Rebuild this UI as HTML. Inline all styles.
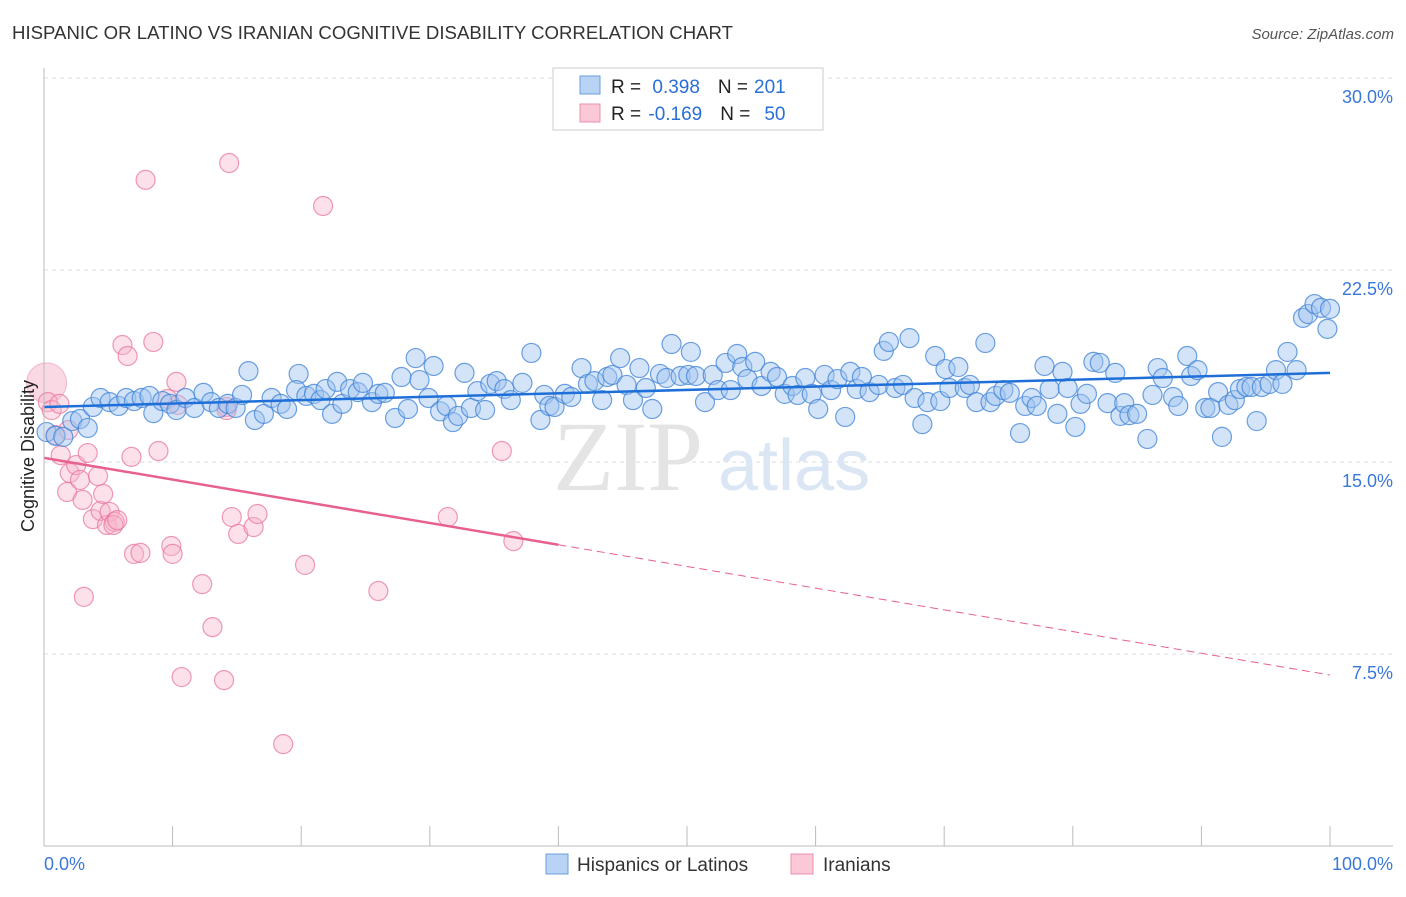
<!DOCTYPE html>
<html><head><meta charset="utf-8"><style>
body{margin:0;background:#fff;font-family:"Liberation Sans",sans-serif;}
svg text{font-family:"Liberation Sans",sans-serif;}
</style></head><body>
<svg id="chart" width="1406" height="892" xmlns="http://www.w3.org/2000/svg">
<text x="12" y="39" font-size="18.6" fill="#333" textLength="721">HISPANIC OR LATINO VS IRANIAN COGNITIVE DISABILITY CORRELATION CHART</text>
<text x="1394" y="39" font-size="15" fill="#555" text-anchor="end" font-style="italic">Source: ZipAtlas.com</text>
<g id="grid"></g>
<text x="553" y="490" font-size="100" fill="#e4e4e4" font-family="Liberation Serif" style="font-family:'Liberation Serif',serif">ZIP</text>
<text x="718" y="490" font-size="72" fill="#dbe6f4">atlas</text>
<g id="marks"></g>
<line x1="44" y1="68" x2="44" y2="846" stroke="#bbb"/>
<line x1="44" y1="846" x2="1393" y2="846" stroke="#bbb"/>
<g id="axes"></g>
<text transform="translate(34,456) rotate(-90)" font-size="18" fill="#222" text-anchor="middle">Cognitive Disability</text>
<g>
<rect x="553" y="68" width="270" height="62" fill="#fff" stroke="#ccc"/>
<rect x="580" y="76" width="20" height="18" fill="#b8d3f3" stroke="#6a9ee0"/>
<rect x="580" y="104" width="20" height="18" fill="#fbc8d8" stroke="#ea90ab"/>
<text x="611" y="93" font-size="19" fill="#222">R = <tspan fill="#2a6fd6" dx="6">0.398</tspan><tspan dx="18" fill="#222">N =</tspan><tspan fill="#2a6fd6" dx="6">201</tspan></text>
<text x="611" y="120" font-size="19" fill="#222">R = <tspan fill="#2a6fd6" dx="2">-0.169</tspan><tspan dx="18" fill="#222">N =</tspan><tspan fill="#2a6fd6" dx="14">50</tspan></text>
</g>
<g>
<rect x="546" y="854" width="22" height="20" fill="#b8d3f3" stroke="#6a9ee0"/>
<text x="577" y="871" font-size="19" fill="#333">Hispanics or Latinos</text>
<rect x="791" y="854" width="22" height="20" fill="#fbc8d8" stroke="#ea90ab"/>
<text x="823" y="871" font-size="19" fill="#333">Iranians</text>
</g>
</svg>
<script>
const yTicks=[7.5,15,22.5,30];
const yTickLabels=["7.5%","15.0%","22.5%","30.0%"];
const xTickLabels=["0.0%","100.0%"];
const blueX=[0.2,0.9,1.5,2.2,2.8,3.4,3.8,4.4,5.1,5.8,6.4,7.0,7.6,8.2,8.5,9.2,9.8,10.3,11.0,11.7,12.4,13.0,13.6,14.3,14.9,15.4,15.9,16.4,17.1,17.7,18.4,18.9,19.8,19.6,20.4,21.0,21.5,21.9,22.4,22.8,23.2,23.8,24.4,24.8,25.5,26.0,26.5,27.3,27.8,28.3,28.9,29.2,29.9,30.3,30.8,31.3,31.8,32.2,32.7,33.2,33.7,34.3,34.7,35.2,35.8,36.3,37.2,37.9,38.6,38.9,39.3,39.7,40.5,41.0,41.8,42.3,42.8,43.4,43.8,44.2,44.8,45.3,45.8,46.3,46.8,47.3,47.9,48.4,48.8,49.5,50.1,50.3,50.7,51.4,52.0,52.4,53.0,53.4,53.9,54.3,54.7,55.3,55.8,56.5,57.0,57.6,58.2,58.6,59.2,59.7,60.2,60.7,61.2,61.7,62.3,62.7,63.2,63.6,64.2,64.9,65.3,65.7,66.2,66.8,67.3,67.7,68.3,68.7,69.3,69.7,70.1,70.4,71.1,71.6,72.0,72.5,73.2,73.6,74.0,74.6,75.1,75.9,76.3,76.8,77.2,77.8,78.2,78.8,79.2,79.6,80.2,80.6,81.1,81.6,82.1,82.7,83.3,83.7,84.0,84.4,85.0,85.8,86.2,86.6,87.0,87.8,88.2,88.9,89.2,89.7,90.3,90.7,91.3,91.6,92.1,92.6,93.0,93.5,93.9,94.3,94.7,95.3,95.8,96.3,96.7,97.4,97.9,98.3,98.8,99.3,99.8,100];
const blueY=[16.17,16.02,15.98,16.60,16.68,16.33,17.15,17.50,17.34,17.19,17.50,17.38,17.50,17.58,16.91,17.38,17.27,17.03,17.50,17.11,17.70,17.34,17.11,17.27,17.11,17.62,18.55,16.64,16.88,17.50,17.27,17.07,18.44,17.81,17.58,17.66,17.42,17.85,16.88,18.13,17.27,17.85,17.73,18.09,17.34,17.66,17.70,16.72,18.32,17.07,19.06,18.20,17.50,18.75,16.98,17.19,16.56,16.80,18.48,17.11,17.77,17.03,18.05,18.16,17.85,17.42,18.09,19.26,16.64,17.62,17.19,17.15,17.66,17.54,18.67,18.05,18.16,17.42,18.32,18.40,19.06,18.01,17.42,18.67,17.89,17.07,18.44,18.28,19.61,18.36,18.40,19.30,18.36,17.34,18.40,17.81,18.87,17.81,19.22,18.71,18.24,18.91,17.97,18.52,18.32,17.66,17.97,17.62,18.28,17.66,17.07,18.40,17.81,18.24,16.76,18.52,17.85,18.32,17.73,18.01,19.34,19.69,17.89,18.01,19.84,17.50,16.48,17.34,19.14,17.38,18.63,17.89,18.71,17.89,18.01,17.34,19.65,17.34,17.58,17.81,17.70,16.13,17.19,17.50,17.19,18.75,17.85,16.88,18.52,17.89,16.37,17.27,17.66,18.91,18.87,17.30,18.48,16.80,17.30,16.83,16.88,15.90,17.62,18.67,18.28,17.54,17.19,19.14,18.36,18.59,17.11,17.11,17.73,15.98,17.23,17.42,17.85,17.93,17.93,16.60,17.93,18.05,18.59,18.05,19.30,18.59,20.63,20.78,21.17,21.02,20.20,20.98];
const pinkX=[0.2,0.3,0.6,1.2,0.9,1.9,1.3,1.8,2.0,2.5,2.8,3.0,3.1,3.4,3.8,4.2,4.4,4.6,4.9,5.1,5.5,5.4,5.7,6.1,6.5,6.8,7.0,7.5,7.9,8.5,8.9,9.9,10.0,10.3,10.7,12.3,13.1,14.0,14.2,14.4,14.6,15.1,16.3,16.6,18.6,20.3,21.7,26.0,31.4,35.6,36.5,14.2,9.6,10.4];
const pinkY=[18.09,17.34,17.03,17.27,16.05,16.25,15.27,13.83,14.57,14.88,14.30,13.52,9.73,15.35,12.77,14.45,13.09,13.75,12.54,13.05,12.66,12.54,12.73,19.57,19.14,15.20,11.41,11.45,26.02,19.69,15.43,11.72,11.41,18.13,6.60,10.23,8.55,6.48,17.15,26.68,12.85,12.19,12.46,12.97,3.98,10.98,25.0,9.96,12.85,15.43,11.91,17.03,17.46,17.23];
const blueTrend=[17.15,18.48];
const pinkTrend=[15.16,6.68];
const pinkSolidEnd=40;
const NS="http://www.w3.org/2000/svg";
const X=v=>44+v*12.86, Y=v=>846-v*25.6;
function mk(tag,attrs,parent){const e=document.createElementNS(NS,tag);for(const k in attrs)e.setAttribute(k,attrs[k]);parent.appendChild(e);return e;}
const grid=document.getElementById('grid'),marks=document.getElementById('marks'),axes=document.getElementById('axes');
yTicks.forEach((t,i)=>{
  const l=mk('line',{x1:44,x2:1393,y1:Y(t),y2:Y(t),stroke:'#ddd','stroke-dasharray':'4,4'},grid);
  
  
  const tx=mk('text',{x:1393,y:Y(t)+25,'font-size':18,fill:'#3a78d8','text-anchor':'end'},axes);
  tx.textContent=yTickLabels[i];
  
  
});
for(let i=0;i<=10;i++){
  const l=mk('line',{x1:X(i*10),x2:X(i*10),y1:826,y2:846,stroke:'#bbb'},axes);
  
  
}
[[0,'start',44],[100,'end',1393]].forEach((d,i)=>{
  const tx=mk('text',{x:d[2],y:870,'font-size':18,fill:'#3a78d8','text-anchor':d[1]},axes);
  tx.textContent=xTickLabels[i];
  
  
});
const big=mk('circle',{cx:X(pinkX[0]),cy:Y(pinkY[0]),r:20,fill:'rgba(248,180,202,0.5)',stroke:'rgba(232,127,160,0.5)'},marks);


pinkX.slice(1).forEach((x,i)=>{
  const c=mk('circle',{cx:X(x),cy:Y(pinkY[i+1]),r:9.5,fill:'rgba(248,180,202,0.4)',stroke:'rgba(232,120,158,0.75)','stroke-width':1.2},marks);
  
  
});
blueX.forEach((x,i)=>{
  const c=mk('circle',{cx:X(x),cy:Y(blueY[i]),r:9.5,fill:'rgba(160,196,240,0.45)',stroke:'rgba(60,130,215,0.75)','stroke-width':1.2},marks);
  
  
});
const bt=mk('line',{x1:X(0),y1:Y(blueTrend[0]),x2:X(100),y2:Y(blueTrend[1]),stroke:'#1f6fd8','stroke-width':2.5},marks);


const pm=pinkTrend[0]+(pinkTrend[1]-pinkTrend[0])*pinkSolidEnd/100;
const ps=mk('line',{x1:X(0),y1:Y(pinkTrend[0]),x2:X(pinkSolidEnd),y2:Y(pm),stroke:'#e8608e','stroke-width':2.5},marks);


const pd=mk('line',{x1:X(pinkSolidEnd),y1:Y(pm),x2:X(100),y2:Y(pinkTrend[1]),stroke:'#e8608e','stroke-width':1,'stroke-dasharray':'8,5'},marks);


</script>
</body></html>
